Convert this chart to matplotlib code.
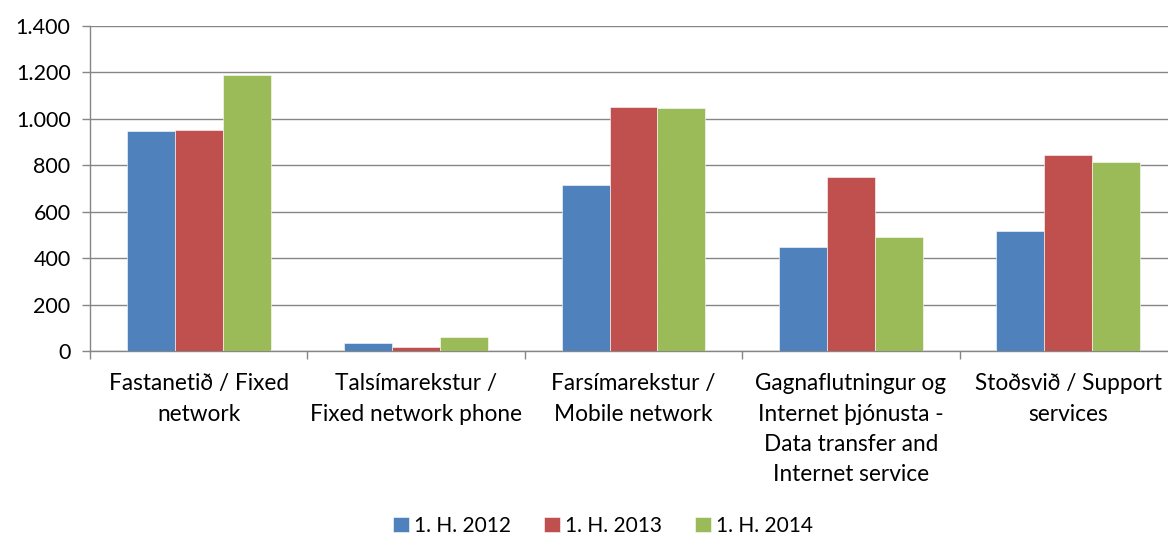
import matplotlib
matplotlib.use("Agg")
import matplotlib.pyplot as plt
from matplotlib.ticker import FuncFormatter, FixedLocator
import numpy as np

plt.rcParams['font.family'] = ['Lato', 'DejaVu Sans']

categories = [
    "Fastanetið / Fixed\nnetwork",
    "Talsímarekstur /\nFixed network phone",
    "Farsímarekstur /\nMobile network",
    "Gagnaflutningur og\nInternet þjónusta -\nData transfer and\nInternet service",
    "Stoðsvið / Support\nservices",
]
series_names = ["1. H. 2012", "1. H. 2013", "1. H. 2014"]
h2012 = [948, 36, 715, 449, 517]
h2013 = [952, 18, 1049, 751, 844]
h2014 = [1189, 62, 1045, 492, 816]
y_ticks = [0, 200, 400, 600, 800, 1000, 1200, 1400]

colors = ["#4F81BD", "#C0504D", "#9BBB59"]
grid_col = "#868686"

fig = plt.figure(figsize=(11.68, 5.38), dpi=100)
ax = fig.add_axes([90 / 1168, 187 / 538, 1087 / 1168, 325 / 538])

x = np.arange(len(categories))
w = 0.2206
for i, (vals, name, c) in enumerate(zip([h2012, h2013, h2014], series_names, colors)):
    ax.bar(x + (i - 1) * w, vals, width=w, color=c, label=name,
           edgecolor="white", linewidth=0.4, zorder=3)

ax.set_xlim(-0.5, len(categories) - 0.5)
ax.set_ylim(0, 1400)
ax.set_yticks(y_ticks)
ax.yaxis.set_major_formatter(FuncFormatter(lambda v, p: f"{int(v):,}".replace(",", ".")))
ax.grid(axis="y", color=grid_col, linewidth=1.0, zorder=0)

ax.set_xticks(x)
ax.set_xticklabels(categories, fontsize=16.3, linespacing=1.55)
ax.xaxis.set_minor_locator(FixedLocator(np.arange(-0.5, len(categories), 1.0)))
ax.tick_params(axis="x", which="major", length=0, pad=16)
ax.tick_params(axis="x", which="minor", length=6, color=grid_col, width=1)
ax.tick_params(axis="y", length=6, color=grid_col, width=1, labelsize=15.5, pad=8)

for s in ["top", "right"]:
    ax.spines[s].set_visible(False)
for s in ["left", "bottom"]:
    ax.spines[s].set_color(grid_col)
    ax.spines[s].set_linewidth(1.0)

fig.legend(loc="center", bbox_to_anchor=(603 / 1168, 1 - 526 / 538), ncol=3,
           frameon=False, fontsize=15, handlelength=0.75, handleheight=0.75,
           handletextpad=0.25, columnspacing=1.6)

fig.savefig("out.png", dpi=100)
